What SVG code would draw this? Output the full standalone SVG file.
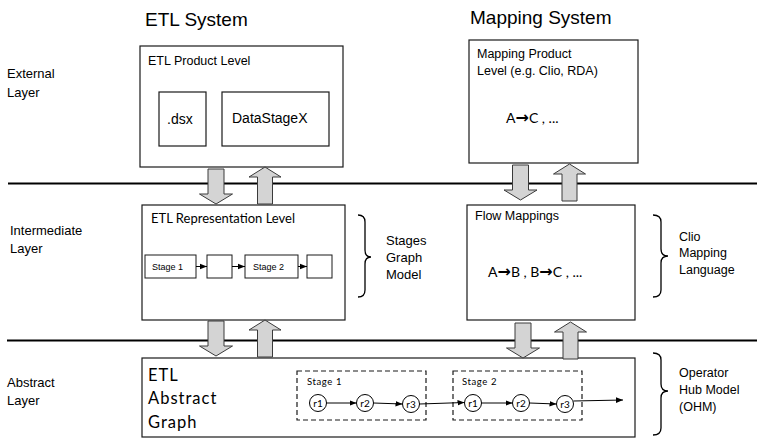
<svg xmlns="http://www.w3.org/2000/svg" width="757" height="438" viewBox="0 0 757 438">
  <defs>
    <style>
      .box { fill: #ffffff; stroke: #1a1a1a; stroke-width: 1.2; }
      .sbox { fill: #ffffff; stroke: #1a1a1a; stroke-width: 1; }
      .dash { fill: none; stroke: #1a1a1a; stroke-width: 1.2; stroke-dasharray: 5 3; }
      .sep { stroke: #000000; stroke-width: 1.8; }
      .flow { fill: #d4d4d4; stroke: #3a3a3a; stroke-width: 1; }
      .brace { fill: none; stroke: #000000; stroke-width: 1.3; }
      .edge { stroke: #000000; stroke-width: 1; fill: none; }
      .arial { font-family: "Liberation Sans", Arial, sans-serif; fill: #000000; }
      .cal { font-family: Lato, "Noto Sans", sans-serif; fill: #000000; }
      .title { font-size: 19px; }
      .lbl { font-size: 13px; }
      .node { fill: #ffffff; stroke: #000000; stroke-width: 1; }
      .arr { font-family: "DejaVu Sans", sans-serif; font-weight: bold; font-size: 16px; }
    </style>
    <marker id="ah" viewBox="0 0 10 10" refX="10" refY="5" markerWidth="7" markerHeight="7" orient="auto" markerUnits="userSpaceOnUse">
      <path d="M0,1 L10,5 L0,9 z" fill="#000000"/>
    </marker>
    <!-- block arrow shapes, pointing down / up, origin at shaft centre top -->
    <path id="down" d="M-8,0 L8,0 L8,25 L16.5,25 L0,35 L-16.5,25 L-8,25 z"/>
    <path id="up" d="M-7.5,37 L7.5,37 L7.5,10 L16,10 L0,0 L-16,10 L-7.5,10 z"/>
  </defs>

  <!-- column titles -->
  <text class="arial title" x="145" y="26">ETL System</text>
  <text class="arial title" x="470" y="24">Mapping System</text>

  <!-- layer labels -->
  <text class="arial lbl" x="7" y="78">External</text>
  <text class="arial lbl" x="7" y="97">Layer</text>
  <text class="arial lbl" x="10" y="235">Intermediate</text>
  <text class="arial lbl" x="10" y="253">Layer</text>
  <text class="arial lbl" x="7" y="387">Abstract</text>
  <text class="arial lbl" x="7" y="405">Layer</text>

  <!-- layer separators -->
  <line class="sep" x1="8" y1="183.5" x2="757" y2="183.5"/>
  <line class="sep" x1="7" y1="340.5" x2="757" y2="340.5"/>

  <!-- ETL product level -->
  <g id="etl-product">
    <rect class="box" x="140" y="46" width="203" height="121"/>
    <text class="arial" font-size="12.5" x="148" y="65">ETL Product Level</text>
    <rect class="box" x="159" y="92" width="47" height="54"/>
    <text class="arial" font-size="14" x="167" y="124">.dsx</text>
    <rect class="box" x="222" y="92" width="107" height="54"/>
    <text class="arial" font-size="14" x="232" y="123">DataStageX</text>
  </g>

  <!-- mapping product level -->
  <g id="mapping-product">
    <rect class="box" x="469" y="40" width="169" height="123"/>
    <text class="arial" font-size="12.5" x="477" y="58">Mapping Product</text>
    <text class="arial" font-size="12.5" x="477" y="75">Level (e.g. Clio, RDA)</text>
    <text class="cal" font-size="14" x="506" y="123">A<tspan class="arr">→</tspan>C , ...</text>
  </g>

  <!-- ETL representation level -->
  <g id="etl-representation">
    <rect class="box" x="142" y="205" width="203" height="115"/>
    <text class="cal" font-size="13" x="151" y="223">ETL Representation Level</text>
    <rect class="sbox" x="145" y="255" width="51" height="23"/>
    <text class="arial" font-size="9" x="152" y="270">Stage 1</text>
    <rect class="sbox" x="207" y="255" width="25" height="23"/>
    <rect class="sbox" x="245" y="255" width="53" height="23"/>
    <text class="arial" font-size="9" x="253" y="270">Stage 2</text>
    <rect class="sbox" x="307" y="255" width="25" height="23"/>
    <line class="edge" x1="196" y1="266.5" x2="207" y2="266.5" marker-end="url(#ah)"/>
    <line class="edge" x1="232" y1="266.5" x2="245" y2="266.5" marker-end="url(#ah)"/>
    <line class="edge" x1="298" y1="266.5" x2="307" y2="266.5" marker-end="url(#ah)"/>
  </g>

  <!-- flow mappings -->
  <g id="flow-mappings">
    <rect class="box" x="467" y="205" width="168" height="115"/>
    <text class="arial" font-size="12.5" x="475" y="220">Flow Mappings</text>
    <text class="cal" font-size="14" x="488" y="277">A<tspan class="arr">→</tspan>B , B<tspan class="arr">→</tspan>C , ...</text>
  </g>

  <!-- ETL abstract graph -->
  <g id="etl-abstract-graph">
    <rect class="box" x="142" y="358" width="493" height="79"/>
    <text class="cal" font-size="16.5" letter-spacing="1" x="148" y="381">ETL</text>
    <text class="cal" font-size="16.5" letter-spacing="1" x="148" y="404">Abstract</text>
    <text class="cal" font-size="16.5" letter-spacing="1" x="148" y="428">Graph</text>

    <g id="stage1-group">
      <rect class="dash" x="297" y="371" width="129" height="49"/>
      <text class="cal" font-size="9.5" letter-spacing="0.6" x="307" y="385">Stage 1</text>
      <circle class="node" cx="318" cy="403" r="8.5"/>
      <text class="cal" font-size="10" text-anchor="middle" x="318" y="407">r1</text>
      <circle class="node" cx="365" cy="403" r="8.5"/>
      <text class="cal" font-size="10" text-anchor="middle" x="365" y="407">r2</text>
      <circle class="node" cx="411" cy="404" r="8.5"/>
      <text class="cal" font-size="10" text-anchor="middle" x="411" y="408">r3</text>
    </g>

    <g id="stage2-group">
      <rect class="dash" x="453" y="371" width="129" height="49"/>
      <text class="cal" font-size="9.5" letter-spacing="0.6" x="462" y="385">Stage 2</text>
      <circle class="node" cx="473" cy="403" r="8.5"/>
      <text class="cal" font-size="10" text-anchor="middle" x="473" y="407">r1</text>
      <circle class="node" cx="521" cy="403" r="8.5"/>
      <text class="cal" font-size="10" text-anchor="middle" x="521" y="407">r2</text>
      <circle class="node" cx="565" cy="404" r="8.5"/>
      <text class="cal" font-size="10" text-anchor="middle" x="565" y="408">r3</text>
    </g>

    <g id="abstract-edges">
      <line class="edge" x1="326.5" y1="403" x2="356.5" y2="403" marker-end="url(#ah)"/>
      <line class="edge" x1="373.5" y1="403" x2="402.5" y2="404" marker-end="url(#ah)"/>
      <line class="edge" x1="419.5" y1="404" x2="464.5" y2="402.5" marker-end="url(#ah)"/>
      <line class="edge" x1="481.5" y1="403" x2="512.5" y2="403" marker-end="url(#ah)"/>
      <line class="edge" x1="529.5" y1="403" x2="556.5" y2="404" marker-end="url(#ah)"/>
      <line class="edge" x1="573.5" y1="401" x2="623" y2="400" marker-end="url(#ah)"/>
    </g>
  </g>

  <!-- braces and their labels -->
  <g id="stages-graph-model">
    <path class="brace" d="M358,215 Q365,215 365,222 L365,250 Q365,257 371,257 Q365,257 365,264 L365,290 Q365,297 358,297"/>
    <text class="arial lbl" x="386" y="245">Stages</text>
    <text class="arial lbl" x="386" y="262">Graph</text>
    <text class="arial lbl" x="386" y="279">Model</text>
  </g>
  <g id="clio-mapping-language">
    <path class="brace" d="M653,215 Q661,215 661,222 L661,249 Q661,256 668,256 Q661,256 661,263 L661,290 Q661,297 653,297"/>
    <text class="arial" font-size="12.5" x="679" y="241">Clio</text>
    <text class="arial" font-size="12.5" x="679" y="257">Mapping</text>
    <text class="arial" font-size="12.5" x="679" y="274">Language</text>
  </g>
  <g id="operator-hub-model">
    <path class="brace" d="M653,353 Q661,353 661,360 L661,384 Q661,391 668,391 Q661,391 661,398 L661,428 Q661,435 653,435"/>
    <text class="arial" font-size="12.5" x="679" y="377">Operator</text>
    <text class="arial" font-size="12.5" x="679" y="394">Hub Model</text>
    <text class="arial" font-size="12.5" x="679" y="411">(OHM)</text>
  </g>

  <!-- transformation arrows between layers -->
  <g id="connectors">
    <use href="#down" class="flow" x="216" y="169"/>
    <use href="#up" class="flow" x="265" y="167"/>
    <use href="#down" class="flow" x="520.5" y="165"/>
    <use href="#up" class="flow" x="569.5" y="164"/>
    <use href="#down" class="flow" x="216" y="321"/>
    <use href="#up" class="flow" x="265" y="320"/>
    <use href="#down" class="flow" x="523" y="323"/>
    <use href="#up" class="flow" x="570.5" y="322"/>
  </g>
</svg>
